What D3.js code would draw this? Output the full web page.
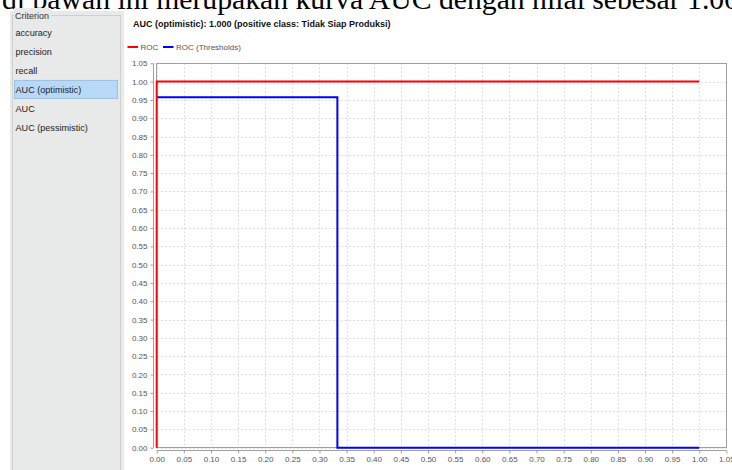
<!DOCTYPE html>
<html><head><meta charset="utf-8">
<script src="https://cdn.jsdelivr.net/npm/d3@7"></script>
<style>html,body{margin:0;padding:0;background:#fff;overflow:hidden}</style>
</head><body>
<svg id="c" width="732" height="470"></svg>
<script>
// ---- data ----
const headingText = "di bawah ini merupakan kurva AUC dengan nilai sebesar 1.00";
const criteria = ["accuracy", "precision", "recall", "AUC (optimistic)", "AUC", "AUC (pessimistic)"];
const selectedCriterion = "AUC (optimistic)";
const chartTitle = "AUC (optimistic): 1.000 (positive class: Tidak Siap Produksi)";
const seriesNames = ["ROC", "ROC (Thresholds)"];
const seriesColors = ["#ff0000", "#0000ff"];
const rocX = [0, 0, 1];
const rocY = [0, 1, 1];
const thrX = [0, 0.333, 0.333, 0.667, 1.0];
const thrY = [0.957, 0.957, 0, 0, 0];
const xTicks = [0,0.05,0.1,0.15,0.2,0.25,0.3,0.35,0.4,0.45,0.5,0.55,0.6,0.65,0.7,0.75,0.8,0.85,0.9,0.95,1.0,1.05];
const yTicks = [0,0.05,0.1,0.15,0.2,0.25,0.3,0.35,0.4,0.45,0.5,0.55,0.6,0.65,0.7,0.75,0.8,0.85,0.9,0.95,1.0,1.05];

const svg = d3.select("#c");
const sans = "'Liberation Sans', Arial, sans-serif";

// heading (clipped at top)
svg.append("text").attr("x", 2).attr("y", 8.5)
  .attr("font-family", "'Liberation Serif','Times New Roman',serif")
  .attr("font-size", 29.7).attr("fill", "#000").text(headingText);

// left panel
svg.append("rect").attr("x", 10).attr("y", 11).attr("width", 114).attr("height", 470).attr("fill", "#e8e9e9");
svg.append("rect").attr("x", 12.5).attr("y", 15.5).attr("width", 108).attr("height", 470)
  .attr("fill", "none").attr("stroke", "#cfd0d0");
svg.append("rect").attr("x", 14).attr("y", 8).attr("width", 37).attr("height", 12).attr("fill", "#e8e9e9");
svg.append("text").attr("x", 15).attr("y", 18.8).attr("font-family", sans).attr("font-size", 9)
  .attr("fill", "#333").text("Criterion");
const itemY = d3.scalePoint().domain(criteria).range([32.7, 127.3]);
criteria.forEach(c => {
  if (c === selectedCriterion) {
    svg.append("rect").attr("x", 14.5).attr("y", itemY(c) - 9).attr("width", 103).attr("height", 18)
      .attr("fill", "#b8d8f8").attr("stroke", "#a0c0e0");
  }
  svg.append("text").attr("x", 15.5).attr("y", itemY(c) + 3.3).attr("font-family", sans)
    .attr("font-size", 9.1).attr("fill", "#222").text(c);
});

// title
svg.append("text").attr("x", 133).attr("y", 27.3).attr("font-family", sans).attr("font-size", 9)
  .attr("font-weight", "bold").attr("fill", "#111").text(chartTitle);

// legend
const legX = [127.5, 163];
seriesNames.forEach((n, i) => {
  svg.append("line").attr("x1", legX[i]).attr("x2", legX[i] + 10.5).attr("y1", 47).attr("y2", 47)
    .attr("stroke", seriesColors[i]).attr("stroke-width", 2);
  svg.append("text").attr("x", legX[i] + 13).attr("y", 49.8).attr("font-family", sans)
    .attr("font-size", 8).attr("fill", "#555").text(n);
});

// scales
const x = d3.scaleLinear().domain([0, 1.05]).range([156.7, 726.4]);
const y = d3.scaleLinear().domain([0, 1.05]).range([447.7, 63.3]);

// grid
const grid = svg.append("g").attr("stroke", "#dcdcdc").attr("stroke-dasharray", "2,2").attr("stroke-width", 1);
xTicks.forEach(t => grid.append("line").attr("x1", Math.round(x(t)) + 0.5).attr("x2", Math.round(x(t)) + 0.5)
  .attr("y1", y(1.05)).attr("y2", y(0)));
yTicks.forEach(t => grid.append("line").attr("y1", Math.round(y(t)) + 0.5).attr("y2", Math.round(y(t)) + 0.5)
  .attr("x1", x(0)).attr("x2", x(1.05)));

// plot outline
svg.append("rect").attr("x", 156.5).attr("y", 63.5).attr("width", 570).attr("height", 384)
  .attr("fill", "none").attr("stroke", "#a0a0a0");

// axes
const yAxis = d3.axisLeft(y).tickValues(yTicks).tickFormat(d3.format(".2f")).tickSize(3).tickPadding(3);
const gy = svg.append("g").attr("transform", "translate(153.5,0)").call(yAxis);
const xAxis = d3.axisBottom(x).tickValues(xTicks).tickFormat(d3.format(".2f")).tickSize(3).tickPadding(3);
const gx = svg.append("g").attr("transform", "translate(0,450.5)").call(xAxis);
[gx, gy].forEach(g => {
  g.selectAll("path").attr("stroke", "#a0a0a0");
  g.selectAll("line").attr("stroke", "#a0a0a0");
  g.selectAll("text").attr("font-family", sans).attr("font-size", 8).attr("fill", "#555");
});
gy.select(".domain").attr("d", `M0,${y(1.05)}V${y(0)}`);
gx.select(".domain").attr("d", `M${x(0)},0H${x(1.05)}`);

// series
const line = d3.line().x(d => x(d[0])).y(d => y(d[1]));
svg.append("path").datum(thrX.map((v, i) => [v, thrY[i]])).attr("d", line)
  .attr("fill", "none").attr("stroke", seriesColors[1]).attr("stroke-width", 2);
svg.append("path").datum(rocX.map((v, i) => [v, rocY[i]])).attr("d", line)
  .attr("fill", "none").attr("stroke", seriesColors[0]).attr("stroke-width", 2);
</script>
</body></html>
